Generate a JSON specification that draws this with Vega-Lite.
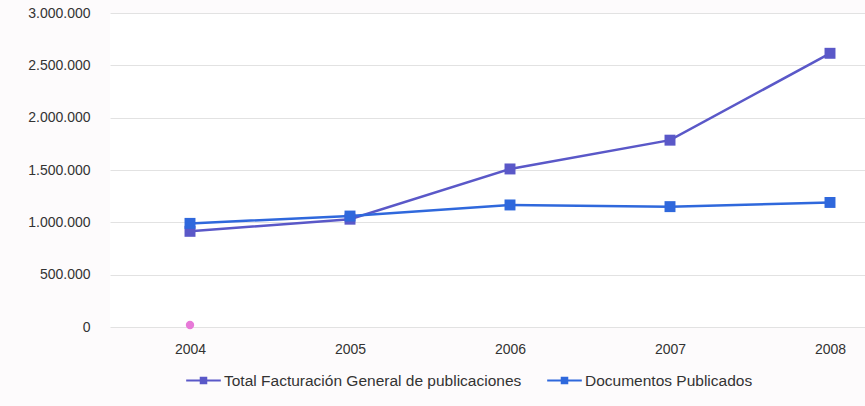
{
  "$schema": "https://vega.github.io/schema/vega-lite/v6.json",
  "autosize": {"type": "none"},
  "padding": {"left": 110, "top": 13, "right": 0, "bottom": 79},
  "width": 755,
  "height": 314,
  "background": "#fdfbfc",
  "config": {
    "view": {"stroke": null, "fill": "#ffffff"},
    "locale": {"number": {"decimal": ",", "thousands": ".", "grouping": [3], "currency": ["", " €"]}},
    "font": "Liberation Sans"
  },
  "datasets": {
    "series": [
      {"year": 2004, "series": "Total Facturación General de publicaciones", "value": 914000},
      {"year": 2005, "series": "Total Facturación General de publicaciones", "value": 1030000},
      {"year": 2006, "series": "Total Facturación General de publicaciones", "value": 1510000},
      {"year": 2007, "series": "Total Facturación General de publicaciones", "value": 1785000},
      {"year": 2008, "series": "Total Facturación General de publicaciones", "value": 2615000},
      {"year": 2004, "series": "Documentos Publicados", "value": 990000},
      {"year": 2005, "series": "Documentos Publicados", "value": 1060000},
      {"year": 2006, "series": "Documentos Publicados", "value": 1166000},
      {"year": 2007, "series": "Documentos Publicados", "value": 1150000},
      {"year": 2008, "series": "Documentos Publicados", "value": 1190000}
    ],
    "dot": [{"year": 2004, "value": 0}]
  },
  "layer": [
    {
      "data": {"name": "series"},
      "mark": {"type": "line", "strokeWidth": 2.5},
      "encoding": {
        "x": {
          "field": "year", "type": "quantitative",
          "scale": {"domain": [2003.5, 2008.21875], "nice": false, "zero": false},
          "axis": {"values": [2004, 2005, 2006, 2007, 2008], "format": "d", "title": null, "grid": false, "domain": false, "ticks": false, "labelPadding": 15, "labelFontSize": 14, "labelColor": "#333333", "labelFont": "Liberation Sans"}
        },
        "y": {
          "field": "value", "type": "quantitative",
          "scale": {"domain": [0, 3000000], "nice": false},
          "axis": {"values": [0, 500000, 1000000, 1500000, 2000000, 2500000, 3000000], "format": ",d", "title": null, "domain": false, "ticks": false, "labelPadding": 20, "labelFontSize": 14, "labelColor": "#333333", "labelFont": "Liberation Sans", "gridColor": "#e2e2e2", "gridWidth": 1}
        },
        "color": {
          "field": "series", "type": "nominal",
          "scale": {"domain": ["Total Facturación General de publicaciones", "Documentos Publicados"], "range": ["#5a58c8", "#2f68dc"]},
          "legend": {
            "title": null, "orient": "none", "direction": "horizontal",
            "legendX": 75, "legendY": 349,
            "symbolType": "M-1,0H1M-0.16,-0.16H0.16V0.16H-0.16Z",
            "symbolSize": 1200, "symbolStrokeWidth": 2,
            "labelFontSize": 15.5, "labelColor": "#333333", "labelFont": "Liberation Sans", "labelLimit": 500,
            "labelOffset": 2, "columnPadding": 21,
            "encode": {"symbols": {"update": {"fill": {"scale": "color", "field": "value"}, "fillOpacity": {"value": 1}}}}
          }
        }
      }
    },
    {
      "data": {"name": "series"},
      "mark": {"type": "point", "shape": "square", "filled": true, "size": 120, "opacity": 1},
      "encoding": {
        "x": {"field": "year", "type": "quantitative"},
        "y": {"field": "value", "type": "quantitative"},
        "color": {"field": "series", "type": "nominal", "legend": null}
      }
    },
    {
      "data": {"name": "dot"},
      "mark": {"type": "point", "shape": "circle", "filled": true, "size": 70, "color": "#e77ad8", "opacity": 1, "yOffset": -2},
      "encoding": {
        "x": {"field": "year", "type": "quantitative"},
        "y": {"field": "value", "type": "quantitative"}
      }
    }
  ]
}
